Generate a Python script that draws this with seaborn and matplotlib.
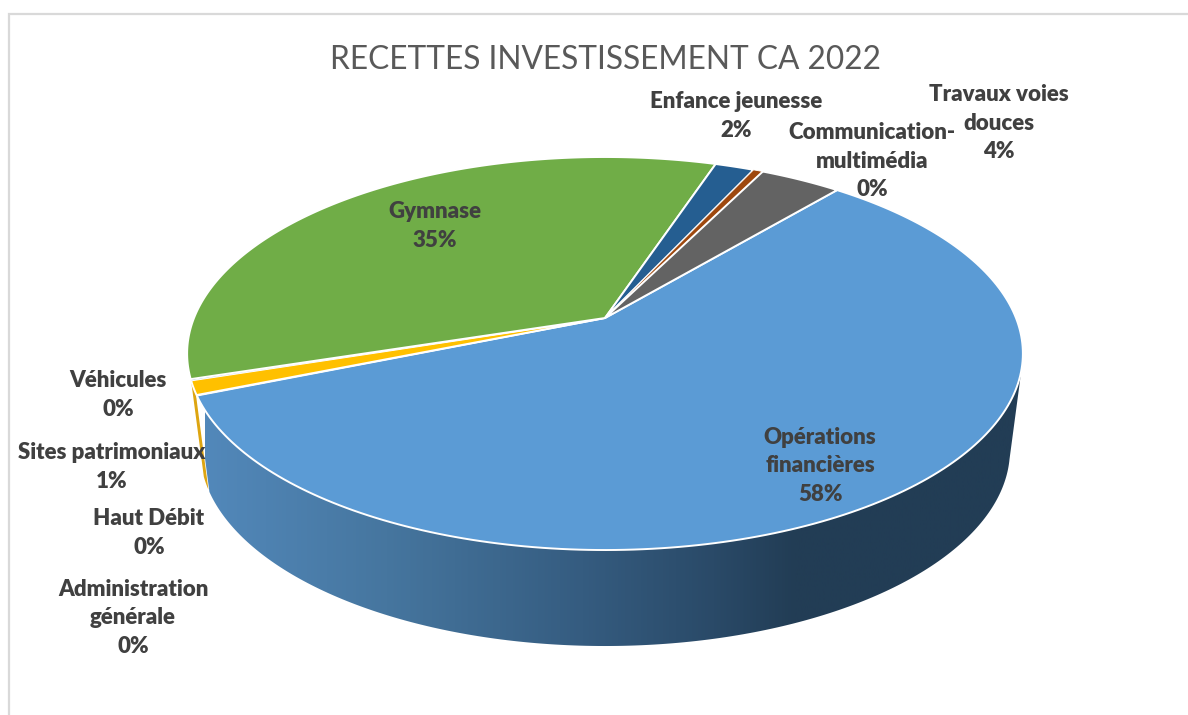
import matplotlib
matplotlib.use('Agg')  # no display here
import matplotlib.pyplot as plt
from matplotlib.colors import LinearSegmentedColormap
from matplotlib.patches import Polygon
import numpy as np
import seaborn as sns

# values (percent of total), clockwise from the blue slice
categories = ["Opérations\nfinancières", "Administration\ngénérale", "Haut Débit",
              "Sites patrimoniaux", "Véhicules", "Gymnase", "Enfance jeunesse",
              "Communication-\nmultimédia", "Travaux voies\ndouces"]
values = [57.65, 0.02, 0.02, 1.15, 0.1, 35.0, 1.8, 0.45, 3.75]
slice_colors = ["#5B9BD5", "#ED7D31", "#A5A5A5", "#FFC000", "#4472C4",
                "#70AD47", "#255E91", "#9E480E", "#636363"]
title = "RECETTES INVESTISSEMENT CA 2022"

# label centres in pixels, same order as categories
label_pos = [(820, 466), (133, 618), (149, 533), (112, 467), (118, 395),
             (435, 226), (736, 116), (872, 161), (999, 123)]

START_ANGLE = 40.0  # clockwise from the far side of the pie
TILT = 0.1807       # strength of the perspective

# top face and bottom rim of the 3D pie, pixels
TOP = dict(cx=605, cy=318, rx=411, ry=190.1)
BOTTOM = dict(cx=605, cy=414.6, rx=398.3, ry=189.6)


def project(theta_deg, cx, cy, rx, ry):
    """Project points of the pie's circle onto the screen with perspective."""
    t = np.radians(theta_deg)
    u, v = np.sin(t), np.cos(t)
    w = 1 + TILT * v
    return cx + rx * u / w, cy - ry * v / w


def arc(a, b, shape):
    xs, ys = project(np.linspace(a, b, 200), **shape)
    return np.column_stack([xs, ys])


sns.set_theme(style="white")
plt.rcParams['font.family'] = ['Lato', 'DejaVu Sans']

fig = plt.figure(figsize=(11.88, 7.15), dpi=100)
ax = fig.add_axes([0, 0, 1, 1])
ax.set_axis_off()

palette = sns.color_palette(slice_colors)
shares = np.array(values) / np.sum(values)
edges = START_ANGLE + 360 * np.concatenate([[0], np.cumsum(shares)])
blue_end = edges[1]
yellow_start, yellow_end = edges[3], edges[4]

# chart frame, only top and left show in the crop
ax.plot([9, 9, 1188], [715, 14, 14], color="#d9d9d9", lw=1.6, solid_joinstyle="miter")

# thin yellow side next to the blue one
side = np.vstack([arc(yellow_start + 0.5, yellow_end, TOP), arc(yellow_end, yellow_start + 0.5, BOTTOM)])
ax.add_patch(Polygon(side, closed=True, fc="#DDA511", ec="none", zorder=2))

# blue side with its horizontal shading
side = np.vstack([arc(103, blue_end, TOP), arc(blue_end, 103, BOTTOM)])
clip = Polygon(side, closed=True, fc="none", ec="none", transform=ax.transData)
ax.add_patch(clip)
shade = LinearSegmentedColormap.from_list("side", [
    (0.00, "#5288BA"), (0.22, "#46769F"), (0.46, "#355C80"),
    (0.62, "#2A4A68"), (0.72, "#223D55"), (1.00, "#223D55")])
img = ax.imshow(np.linspace(0, 1, 512)[None, :], cmap=shade, vmin=0, vmax=1,
                extent=(205, 1025, 660, 190), aspect="auto", zorder=3)
img.set_clip_path(clip)

# top face
for i, color in enumerate(palette):
    rim = arc(edges[i], edges[i + 1], TOP)
    pts = np.vstack([[TOP["cx"], TOP["cy"]], rim])
    lw = 0.6 if shares[i] < 0.005 else 1.4
    ax.add_patch(Polygon(pts, closed=True, fc=color, ec="white", lw=lw, joinstyle="round", zorder=4))

for name, share, (x, y) in zip(categories, shares, label_pos):
    ax.text(x, y, f"{name}\n{round(share * 100)}%", ha="center", va="center", fontsize=16,
            fontweight=800, color="#404040", linespacing=1.47, zorder=6)

ax.text(605, 60, title, ha="center", va="center", fontsize=22.8, color="#595959", zorder=6)

ax.set_xlim(0, 1188)
ax.set_ylim(715, 0)
fig.savefig("out.png", dpi=100, facecolor="white")
plt.close(fig)
